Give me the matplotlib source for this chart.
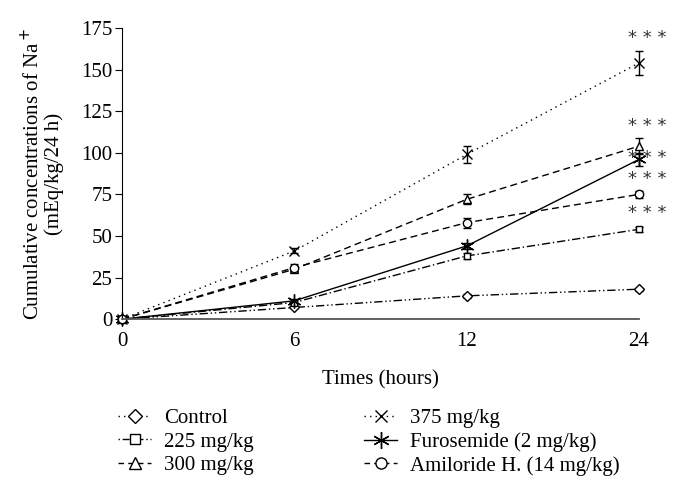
import matplotlib
matplotlib.use('Agg')
import matplotlib.pyplot as plt
from matplotlib.lines import Line2D

plt.rcParams['font.family'] = ['Liberation Serif', 'DejaVu Serif']

# data
times = ['0', '6', '12', '24']
series = ['Control', '225 mg/kg', '300 mg/kg', '375 mg/kg',
          'Furosemide (2 mg/kg)', 'Amiloride H. (14 mg/kg)']
control = [0, 7, 14, 18]
dose225 = [0, 10, 38, 54]
dose300 = [0, 30, 72, 104]
dose375 = [0, 41, 99, 154]
furosemide = [0, 11, 44, 96]
amiloride = [0, 31, 58, 75]
err_control = [0, 0.5, 1, 1]
err225 = [0, 1, 2, 1.5]
err300 = [0, 1, 3, 5]
err375 = [0, 1.5, 5, 7.5]
err_furo = [0, 1, 2, 4]
err_amil = [0, 2, 3, 2]
stars_y = [169, 116, 97, 84, 64]

x = list(range(len(times)))
values = [control, dose225, dose300, dose375, furosemide, amiloride]
errors = [err_control, err225, err300, err375, err_furo, err_amil]
styles = [(0, (6, 2, 1, 2, 1, 2)), (0, (6, 2, 1, 2)), (0, (5, 3)),
          (0, (1, 3)), '-', (0, (5, 3))]
legend_styles = [(0, (1, 3)), (0, (1, 2, 5, 2)), (0, (4, 3)),
                 (0, (1, 3)), '-', (0, (4, 3))]
markers = ['D', 's', '^', 'x', (6, 2, 0), 'o']
msizes = [5, 5, 6, 7, 10, 6]

fig = plt.figure(figsize=(6.74, 5.01), dpi=100)
ax = fig.add_axes([0.181, 0.363, 0.767, 0.581])

proxies = []
for vals, err, ls, lls, mk, ms in zip(values, errors, styles, legend_styles,
                                      markers, msizes):
    ax.errorbar(x, vals, yerr=err, color='black', linestyle=ls, linewidth=1.0,
                marker=mk, markersize=ms, markerfacecolor='white',
                markeredgecolor='black', markeredgewidth=1.0,
                capsize=3, elinewidth=1.0, clip_on=False)
    proxies.append(Line2D([], [], color='black', linestyle=lls, linewidth=1.0,
                          marker=mk, markersize=ms + 2, markerfacecolor='white',
                          markeredgecolor='black'))

for sy in stars_y:
    ax.text(3.05, sy, '* * *', ha='center', va='center', fontsize=13,
            family='DejaVu Sans', color='#333333')

ax.set_xlim(0, 3)
ax.set_ylim(0, 175)
ax.set_yticks(range(0, 176, 25))
ax.set_xticks(x)
ax.set_xticklabels(times)
ax.tick_params(axis='x', length=0, pad=9, labelsize=15)
ax.tick_params(axis='y', direction='out', length=5, labelsize=15, pad=2)
ax.spines['top'].set_visible(False)
ax.spines['right'].set_visible(False)
ax.spines['bottom'].set_color('#555555')
ax.spines['bottom'].set_linewidth(1.3)
ax.set_xlabel('Times (hours)', fontsize=15, labelpad=14)
ax.set_ylabel('Cumulative concentrations of Na$^+$\n(mEq/kg/24 h)', fontsize=15,
              linespacing=1.05, labelpad=12)

kw = dict(loc='upper left', frameon=False, fontsize=15, handlelength=1.6,
          labelspacing=0.2, handletextpad=0.6, borderpad=0, borderaxespad=0)
fig.legend(proxies[:3], series[:3], bbox_to_anchor=(0.175, 0.185), **kw)
fig.legend(proxies[3:], series[3:], bbox_to_anchor=(0.54, 0.185), **kw)

fig.savefig('out.png', dpi=100)
